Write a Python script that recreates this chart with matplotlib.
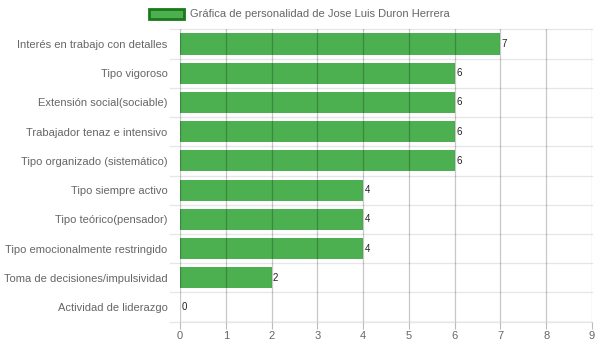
import matplotlib
matplotlib.use('Agg')
import matplotlib.pyplot as plt
from matplotlib.patches import Patch

# categories and scores, top to bottom
categorias = [
    'Interés en trabajo con detalles',
    'Tipo vigoroso',
    'Extensión social(sociable)',
    'Trabajador tenaz e intensivo',
    'Tipo organizado (sistemático)',
    'Tipo siempre activo',
    'Tipo teórico(pensador)',
    'Tipo emocionalmente restringido',
    'Toma de decisiones/impulsividad',
    'Actividad de liderazgo',
]
valores = [7, 6, 6, 6, 6, 4, 4, 4, 2, 0]
serie = 'Gráfica de personalidad de Jose Luis Duron Herrera'
xticks = list(range(0, 10))

plt.rcParams['font.family'] = ['Liberation Sans', 'DejaVu Sans']

fig = plt.figure(figsize=(5.98, 3.48), dpi=100)
ax = fig.add_axes([180 / 598, 1 - 321.6 / 348, 412 / 598, 292.2 / 348])

pos = list(range(len(categorias)))
ax.barh(pos, valores, height=0.72, color='#4caf50', edgecolor='none', zorder=2)
for p, v in zip(pos, valores):
    ax.text(v + 0.03, p, str(v), va='center', ha='left', fontsize=7,
            color='#222222', zorder=4)

ax.set_xlim(0, 9)
ax.set_ylim(len(categorias) - 0.5, -0.5)
ax.set_xticks(xticks)
ax.set_yticks(pos)
ax.set_yticklabels(categorias)

# grid lines
for x in xticks:
    ax.axvline(x, color='#000000', alpha=0.22, linewidth=0.9, zorder=3)
for i in range(len(categorias) + 1):
    ax.axhline(i - 0.5, color='#e6e6e6', linewidth=0.9, zorder=1,
               xmin=-10 / 412, clip_on=False)

for s in ax.spines.values():
    s.set_visible(False)
ax.axhline(len(categorias) - 0.5, color='#d0d0d0', linewidth=1.0, zorder=3)

ax.tick_params(axis='both', labelsize=8, colors='#666666', length=0, pad=4)
ax.tick_params(axis='x', length=5, color='#bbbbbb', pad=2)
ax.tick_params(axis='y', pad=9)

handle = Patch(facecolor='#4caf50', edgecolor='#1a7a1a', linewidth=2)
fig.legend([handle], [serie], loc='center', bbox_to_anchor=(0.5, 1 - 14 / 348),
           frameon=False, fontsize=8, handlelength=3.2, handleheight=1.0,
           labelcolor='#666666', handletextpad=0.5)

fig.savefig('out.png', dpi=100)
